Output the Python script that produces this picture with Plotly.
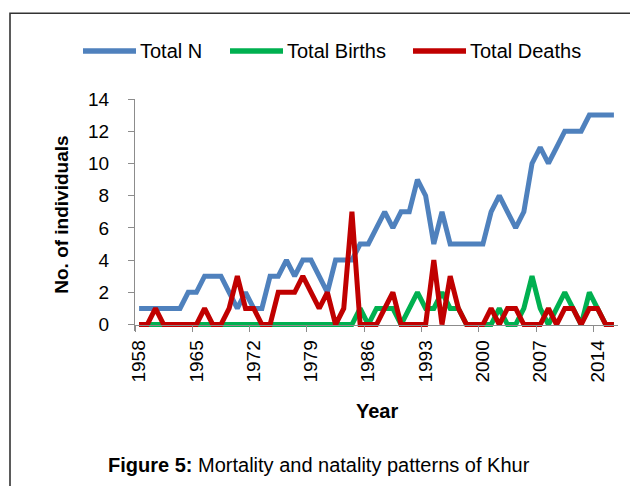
import plotly.graph_objects as go

# ---- data ----
years = list(range(1958, 2017))
total_n = [1, 1, 1, 1, 1, 1, 2, 2, 3, 3, 3, 2, 1, 2, 1, 1, 3, 3, 4, 3,
           4, 4, 3, 2, 4, 4, 4, 5, 5, 6, 7, 6, 7, 7, 9, 8, 5, 7, 5, 5,
           5, 5, 5, 7, 8, 7, 6, 7, 10, 11, 10, 11, 12, 12, 12, 13, 13, 13, 13]
total_births = [0, 0, 0, 0, 0, 0, 0, 0, 0, 0, 0, 0, 0, 0, 0, 0, 0, 0, 0, 0,
                0, 0, 0, 0, 0, 0, 0, 1, 0, 1, 1, 1, 0, 1, 2, 1, 1, 2, 1, 1,
                0, 0, 0, 0, 1, 0, 0, 1, 3, 1, 0, 1, 2, 1, 0, 2, 1, 0, 0]
total_deaths = [0, 0, 1, 0, 0, 0, 0, 0, 1, 0, 0, 1, 3, 1, 1, 0, 0, 2, 2, 2,
                3, 2, 1, 2, 0, 1, 7, 0, 0, 0, 1, 2, 0, 0, 0, 0, 4, 0, 3, 1,
                0, 0, 0, 1, 0, 1, 1, 0, 0, 0, 1, 0, 1, 1, 0, 1, 1, 0, 0]
label_years = years[::7]
y_ticks = list(range(0, 15, 2))

series = [("Total N", total_n, "#4F81BD"),
          ("Total Births", total_births, "#00B050"),
          ("Total Deaths", total_deaths, "#C00000")]

# ---- geometry (page pixels; the page body adds an 8px offset) ----
OFF = 8
W, H = 638 - OFF, 486 - OFF
PLOT_L, PLOT_R, PLOT_T, PLOT_B = 135, 618, 99, 331.5   # page coords
ML, MR, MT, MB = PLOT_L - OFF, W - (PLOT_R - OFF), PLOT_T - OFF, H - (PLOT_B - OFF)
x_rng = [years[0] - 0.5, years[-1] + 0.5]
y_rng = [-0.4, 14]
axis_pos = (0 - y_rng[0]) / (y_rng[1] - y_rng[0])
pw, ph = PLOT_R - PLOT_L, PLOT_B - PLOT_T


def px_x(px):
    return (px - PLOT_L) / pw


def px_y(py):
    return (PLOT_B - py) / ph


FONT = "Liberation Sans, Arial, sans-serif"
TICK_SIZE = 19

fig = go.Figure()
for name, vals, col in series:
    fig.add_trace(go.Scatter(x=years, y=vals, name=name, mode="lines",
                             line=dict(color=col, width=5), showlegend=False))
# helper trace for the boundary-tick axis
fig.add_trace(go.Scatter(x=[years[0]], y=[None], xaxis="x2", showlegend=False,
                         hoverinfo="skip"))

gray = "#8C8C8C"
fig.update_layout(
    width=W, height=H,
    margin=dict(l=ML, r=MR, t=MT, b=MB, autoexpand=False),
    paper_bgcolor="white", plot_bgcolor="white",
    font=dict(family=FONT, color="black", size=TICK_SIZE),
    showlegend=False,
    xaxis=dict(range=x_rng, tickmode="array", tickvals=label_years,
               ticktext=[str(v) for v in label_years], tickangle=-90,
               ticks="", showline=True, linecolor=gray, linewidth=1.3,
               showgrid=False, zeroline=False, anchor="free", position=axis_pos,
               tickfont=dict(family=FONT, size=TICK_SIZE), ticklabelstandoff=7,
               automargin=False),
    xaxis2=dict(range=x_rng, overlaying="x", tickmode="array",
                tickvals=[v - 0.5 for v in label_years],
                ticks="outside", ticklen=6, tickcolor=gray, tickwidth=1.3,
                showticklabels=False, showline=False, showgrid=False,
                zeroline=False, anchor="free", position=axis_pos, side="bottom",
                automargin=False),
    yaxis=dict(range=y_rng, tickmode="array", tickvals=y_ticks,
               ticks="outside", ticklen=6, tickcolor=gray, tickwidth=1.3,
               showline=True, linecolor=gray, linewidth=1.3, showgrid=False,
               zeroline=False, tickfont=dict(family=FONT, size=TICK_SIZE),
               ticklabelstandoff=15, automargin=False),
)

# legend drawn as sample lines + labels
legend_line_x = [(83, 136), (230, 283), (413, 466)]
legend_y = 51
for (name, _, col), (lx0, lx1) in zip(series, legend_line_x):
    fig.add_shape(type="line", xref="paper", yref="paper",
                  x0=px_x(lx0), x1=px_x(lx1), y0=px_y(legend_y), y1=px_y(legend_y),
                  line=dict(color=col, width=5.5))
    fig.add_annotation(text=name, xref="paper", yref="paper",
                       x=px_x(lx1 + 2), y=px_y(legend_y), showarrow=False,
                       xanchor="left", yanchor="middle",
                       font=dict(family=FONT, size=20))

fig.add_annotation(text="<b>No. of individuals</b>", xref="paper", yref="paper",
                   x=px_x(62), y=px_y(215), textangle=-90, showarrow=False,
                   font=dict(family=FONT, size=19), xanchor="center", yanchor="middle")
fig.add_annotation(text="<b>Year</b>", xref="paper", yref="paper",
                   x=px_x(377), y=px_y(412), showarrow=False,
                   font=dict(family=FONT, size=20), xanchor="center", yanchor="middle")
fig.add_annotation(text="<b>Figure 5:</b> Mortality and natality patterns of Khur",
                   xref="paper", yref="paper", x=px_x(106), y=px_y(466),
                   showarrow=False, font=dict(family=FONT, size=20),
                   xanchor="left", yanchor="middle")
fig.add_shape(type="rect", xref="paper", yref="paper",
              x0=px_x(10), x1=px_x(660), y0=px_y(13), y1=px_y(520),
              line=dict(color="#333333", width=1.6), layer="above")

fig.write_html("out.html")
